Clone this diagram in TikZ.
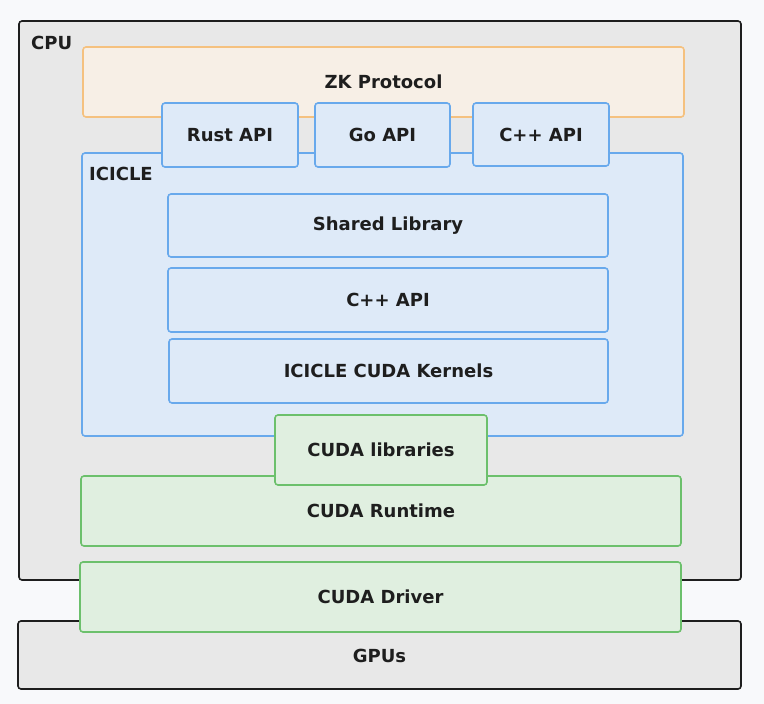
\documentclass[tikz,border=0pt]{standalone}
\usepackage{fontspec}
\setmainfont{DejaVu Sans}
\usepackage{tikz}
\usetikzlibrary{positioning,backgrounds}
\definecolor{pagebg}{HTML}{F8F9FB}
\definecolor{hostfill}{HTML}{E8E8E8}
\definecolor{hostline}{HTML}{1E1E1E}
\definecolor{zkfill}{HTML}{F7EFE6}
\definecolor{zkline}{HTML}{F5C17F}
\definecolor{icfill}{HTML}{DEEAF8}
\definecolor{icline}{HTML}{68A9EC}
\definecolor{cufill}{HTML}{E0EFE0}
\definecolor{culine}{HTML}{6CC06C}
\tikzset{
  boxfont/.style={font=\fontsize{18}{21}\selectfont\bfseries,text=hostline},
  layer/.style={draw,line width=1.6pt,rounded corners=3pt,align=center,boxfont},
  hostbox/.style={layer,fill=hostfill,draw=hostline},
  zkbox/.style={layer,fill=zkfill,draw=zkline},
  icbox/.style={layer,fill=icfill,draw=icline},
  cubox/.style={layer,fill=cufill,draw=culine},
  tag/.style={anchor=north west,inner sep=0pt,boxfont}
}
\begin{document}
\begin{tikzpicture}[x=1pt,y=-1pt]
\fill[pagebg] (0,0) rectangle (764,704);
\useasboundingbox (0,0) rectangle (764,704);
% host side
\node[hostbox,minimum width=722pt,minimum height=559pt] (cpu) at (380,300.5) {};
\node[tag] (cpulabel) at (31,36) {CPU};
\node[zkbox,minimum width=601pt,minimum height=70pt] (zk) at (383.5,82) {ZK Protocol};
% icicle
\node[icbox,minimum width=601pt,minimum height=283pt] (icicle) at (382.5,294.5) {};
\node[tag] (iclabel) at (89,167) {ICICLE};
\node[icbox,minimum width=136pt,minimum height=64pt] (rust) at (230,135) {Rust API};
\node[icbox,minimum width=135pt,minimum height=64pt] (go) at (382.5,135) {Go API};
\node[icbox,minimum width=136pt,minimum height=63pt] (cpp) at (541,134.5) {C++ API};
\node[icbox,minimum width=440pt,minimum height=63pt] (shared) at (388,225.5) {Shared Library};
\node[icbox,minimum width=440pt,minimum height=64pt] (cppcore) at (388,300) {C++ API};
\node[icbox,minimum width=439pt,minimum height=64pt] (kernels) at (388.5,371) {ICICLE CUDA Kernels};
% cuda stack
\node[cubox,minimum width=600pt,minimum height=70pt] (runtime) at (381,511) {CUDA Runtime};
\node[cubox,minimum width=212pt,minimum height=70pt] (cudalib) at (381,450) {CUDA libraries};
\node[hostbox,minimum width=723pt,minimum height=68pt] (gpus) at (379.5,655) {};
\node[boxfont] (gpulabel) at (379.5,656) {GPUs};
\node[cubox,minimum width=601pt,minimum height=70pt] (driver) at (380.5,597) {CUDA Driver};
\end{tikzpicture}
\end{document}
